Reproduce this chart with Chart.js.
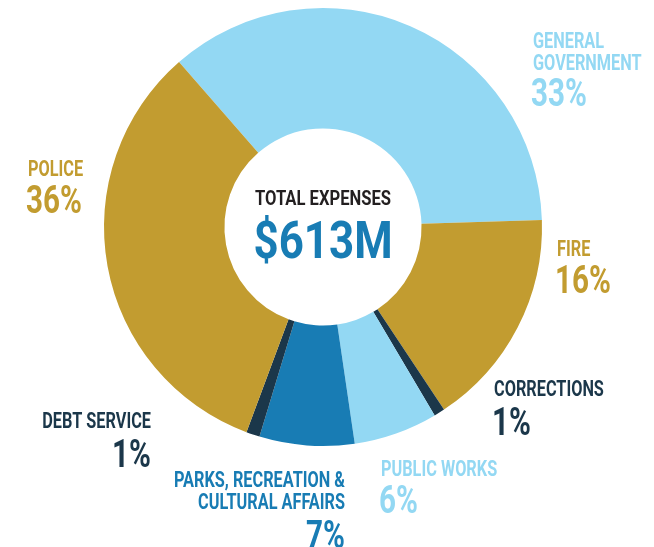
<!DOCTYPE html>
<html lang="en">
<head>
    <meta charset="UTF-8">
    <title>Total Expenses</title>
    <script src="https://cdn.jsdelivr.net/npm/chart.js"></script>
    <style>
        body {
            margin: 0;
            background-color: #ffffff;
        }
        #chart-container {
            width: 654px;
            height: 547px;
        }
    </style>
</head>
<body>
    <div id="chart-container">
        <canvas id="expensesChart"></canvas>
    </div>
    <script>
        // categories in clockwise order, starting from the top left
        const categories = ['General Government', 'Fire', 'Corrections', 'Public Works',
            'Parks, Recreation & Cultural Affairs', 'Debt Service', 'Police'];
        // slice sizes as drawn in the picture
        const sliceValues = [35.9, 16.2, 0.8, 6.2, 7.0, 1.0, 32.9];
        // percentages as printed next to each slice
        const percentLabels = ['33%', '16%', '1%', '6%', '7%', '1%', '36%'];
        const totalLabel = '$613M';

        const sliceColors = ['#93d8f3', '#c29c30', '#1b374a', '#93d8f3', '#187cb4', '#1b374a', '#c29c30'];

        // label name lines, anchor and alignment per category
        const labelLayout = [
            { lines: ['GENERAL', 'GOVERNMENT'], x: 533, y: 48, align: 'left', pctY: 106 },
            { lines: ['FIRE'], x: 557, y: 256, align: 'left', pctY: 293 },
            { lines: ['CORRECTIONS'], x: 494, y: 396, align: 'left', pctY: 435 },
            { lines: ['PUBLIC WORKS'], x: 381, y: 476, align: 'left', pctY: 513 },
            { lines: ['PARKS, RECREATION &', 'CULTURAL AFFAIRS'], x: 345, y: 487, align: 'right', pctY: 548 },
            { lines: ['DEBT SERVICE'], x: 151, y: 428, align: 'right', pctY: 467 },
            { lines: ['POLICE'], x: 28, y: 176, align: 'left', pctY: 213 }
        ];

        function squeezedText(ctx, text, x, y, font, color, align, sx) {
            ctx.save();
            ctx.translate(x, y);
            ctx.scale(sx, 1);
            ctx.font = font;
            ctx.fillStyle = color;
            ctx.textAlign = align;
            ctx.textBaseline = 'alphabetic';
            ctx.fillText(text, 0, 0);
            ctx.restore();
        }

        const labelPlugin = {
            id: 'labelPlugin',
            afterDraw(chart) {
                const ctx = chart.ctx;
                const arc = chart.getDatasetMeta(0).data[0];
                const cx = arc.x;
                const cy = arc.y;

                labelLayout.forEach(function (l, i) {
                    const color = sliceColors[i];
                    l.lines.forEach(function (line, j) {
                        squeezedText(ctx, line, l.x, l.y + j * 21.5, 'bold 22px Roboto', color, l.align, 0.74);
                    });
                    squeezedText(ctx, percentLabels[i], l.x - (l.align === 'left' ? 2 : 0), l.pctY,
                        'bold 39px Roboto', color, l.align, 0.76);
                });

                // centre text
                squeezedText(ctx, 'TOTAL EXPENSES', cx, cy - 22, 'bold 20px Roboto', '#231f20', 'center', 0.83);
                squeezedText(ctx, totalLabel, cx, cy + 31, 'bold 51px Roboto', '#187cb4', 'center', 0.86);
            }
        };

        const ctx = document.getElementById('expensesChart').getContext('2d');
        const expensesChart = new Chart(ctx, {
            type: 'doughnut',
            data: {
                labels: categories,
                datasets: [{
                    data: sliceValues,
                    backgroundColor: sliceColors,
                    borderWidth: 0,
                    hoverOffset: 0
                }]
            },
            options: {
                responsive: true,
                maintainAspectRatio: false,
                animation: false,
                events: [],
                rotation: -41.1,
                cutout: '45%',
                layout: {
                    padding: { top: 8, bottom: 101, left: 0, right: 8 }
                },
                plugins: {
                    legend: { display: false },
                    tooltip: { enabled: false }
                }
            },
            plugins: [labelPlugin]
        });
    </script>
</body>
</html>
